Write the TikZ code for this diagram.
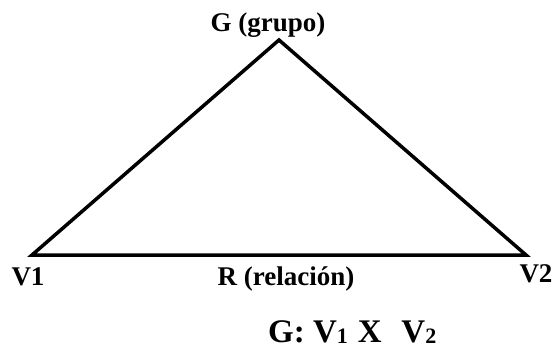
\documentclass[tikz,border=0pt]{standalone}
\usepackage{fontspec}
\setmainfont{Liberation Serif}
\newcommand{\lowsub}[1]{{\fontsize{22}{22}\selectfont\raisebox{-1.5pt}{#1}}}
\begin{document}
\begin{tikzpicture}[x=1pt,y=-1pt,
  lbl/.style={font=\fontsize{27}{30}\selectfont\bfseries, inner sep=0pt, anchor=base},
  big/.style={font=\fontsize{33}{36}\selectfont\bfseries, inner sep=0pt, anchor=base west},
  edge/.style={line width=3.5pt, line join=miter}]
\useasboundingbox (0,0) rectangle (555,348);
\coordinate (top) at (279,40);
\coordinate (v1) at (32,255);
\coordinate (v2) at (526,255);
\draw[edge] (top) -- (v1) -- (v2) -- cycle;
\node[lbl] (g) at (268,31) {G (grupo)};
\node[lbl] (lv1) at (28,285) {V1};
\node[lbl] (lr) at (286,285) {R (relación)};
\node[lbl] (lv2) at (536,282) {V2};
\node[big] (eq) at (268,342) {G: V\lowsub{1}\hspace{0.3em}X\hspace{0.6em}V\lowsub{2}};
\end{tikzpicture}
\end{document}
